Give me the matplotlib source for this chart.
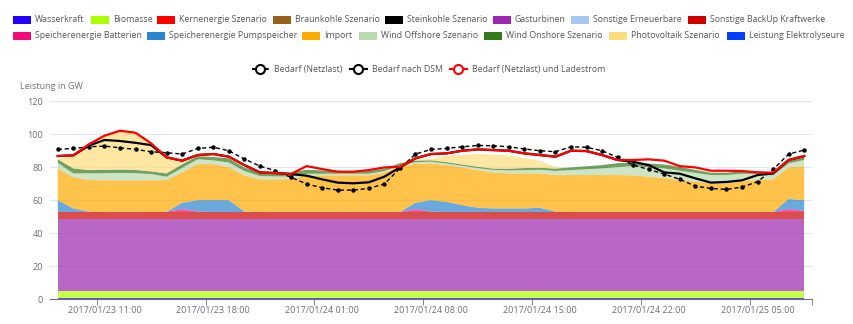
import matplotlib
matplotlib.use("Agg")
import matplotlib.pyplot as plt
from matplotlib.patches import Rectangle
from matplotlib.lines import Line2D
import pandas as pd

plt.rcParams['font.family'] = ['Open Sans', 'DejaVu Sans']

# stündliche Kategorien 23.01. 08:00 bis 25.01. 08:00
zeiten = list(pd.date_range("2017-01-23 08:00", periods=49, freq="h").strftime("%Y/%m/%d %H:%M"))
tick_labels = ["2017/01/23 11:00", "2017/01/23 18:00", "2017/01/24 01:00", "2017/01/24 08:00",
               "2017/01/24 15:00", "2017/01/24 22:00", "2017/01/25 05:00"]

namen = ["Wasserkraft", "Biomasse", "Kernenergie Szenario", "Braunkohle Szenario", "Steinkohle Szenario",
         "Gasturbinen", "Sonstige Erneuerbare", "Sonstige BackUp Kraftwerke",
         "Speicherenergie Batterien", "Speicherenergie Pumpspeicher", "Import", "Wind Offshore Szenario",
         "Wind Onshore Szenario", "Photovoltaik Szenario", "Leistung Elektrolyseure"]
farben = ["#2200ff", "#aaff00", "#ff0000", "#94621a", "#000000", "#9c27b0", "#a4c8f0", "#cc0000",
          "#f50a7a", "#2a85d0", "#ffaa00", "#b9d9b0", "#347a1c", "#fedc7c", "#0040ff"]

wasser = [1.0, 1.0, 1.0, 1.0, 1.0, 1.0, 1.0, 1.0, 1.0, 1.0, 1.0, 1.0, 1.0, 1.0, 1.0, 1.0, 1.0,
          1.0, 1.0, 1.0, 1.0, 1.0, 1.0, 1.0, 1.0, 1.0, 1.0, 1.0, 1.0, 1.0, 1.0, 1.0, 1.0, 1.0,
          1.0, 1.0, 1.0, 1.0, 1.0, 1.0, 1.0, 1.0, 1.0, 1.0, 1.0, 1.0, 1.0, 1.0, 1.0]
biomasse = [4.3, 4.3, 4.3, 4.3, 4.3, 4.3, 4.3, 4.3, 4.3, 4.3, 4.3, 4.3, 4.3, 4.3, 4.3, 4.3, 4.3,
            4.3, 4.3, 4.3, 4.3, 4.3, 4.3, 4.3, 4.3, 4.3, 4.3, 4.3, 4.3, 4.3, 4.3, 4.3, 4.3, 4.3,
            4.3, 4.3, 4.3, 4.3, 4.3, 4.3, 4.3, 4.3, 4.3, 4.3, 4.3, 4.3, 4.3, 4.3, 4.3]
kern = [0] * 49
braunkohle = [0] * 49
steinkohle = [0] * 49
gas = [43.3, 43.3, 43.3, 43.3, 43.3, 43.3, 43.3, 43.3, 43.3, 43.3, 43.3, 43.3, 43.3, 43.3, 43.3, 43.3, 43.3,
       43.3, 43.3, 43.3, 43.3, 43.3, 43.3, 43.3, 43.3, 43.3, 43.3, 43.3, 43.3, 43.3, 43.3, 43.3, 43.3, 43.3,
       43.3, 43.3, 43.3, 43.3, 43.3, 43.3, 43.3, 43.3, 43.3, 43.3, 43.3, 43.3, 43.3, 43.3, 43.3]
sonst_ee = [0] * 49
backup = [4.2, 4.2, 4.2, 4.2, 4.2, 4.2, 4.2, 4.2, 4.2, 4.2, 4.2, 4.2, 4.2, 4.2, 4.2, 4.2, 4.2,
          4.2, 4.2, 4.2, 4.2, 4.2, 4.2, 4.2, 4.2, 4.2, 4.2, 4.2, 4.2, 4.2, 4.2, 4.2, 4.2, 4.2,
          4.2, 4.2, 4.2, 4.2, 4.2, 4.2, 4.2, 4.2, 4.2, 4.2, 4.2, 4.2, 4.2, 4.2, 4.2]
batterien = [0, 0, 0, 0, 0, 0, 0, 0.2, 1.8, 0.3, 0, 0, 0, 0, 0, 0, 0, 0, 0, 0, 0, 0, 0, 1.7, 0.3,
             0, 0, 0, 0, 0, 0, 0, 0, 0, 0, 0, 0, 0, 0, 0, 0, 0, 0, 0, 0, 0, 0, 1.8, 0.8]
pumpspeicher = [7.2, 2.2, 0.2, 0, 0, 0, 0, 0, 3.8, 6.9, 7.2, 7.2, 0.3, 0, 0, 0, 0, 0, 0, 0, 0, 0, 0, 3.9, 6.9,
                6.2, 4.2, 2.6, 2.2, 2.2, 2.2, 2.6, 0.3, 0, 0, 0, 0, 0, 0, 0, 0, 0, 0, 0, 0, 0, 0, 6.1, 6.4]
importe = [19.2, 18.8, 19.2, 19.2, 19.2, 19.2, 19.2, 19.2, 18.4, 21.8, 21.8, 20.0, 21.9, 19.8, 19.8, 20.0, 22.0,
           22.2, 22.2, 22.2, 22.2, 23.8, 27.4, 23.6, 22.3, 22.2, 22.8, 22.8, 21.8, 21.2, 21.2, 20.8, 22.1, 22.4,
           22.4, 22.4, 22.4, 22.2, 21.4, 20.6, 19.4, 18.4, 17.4, 17.4, 18.4, 19.6, 19.8, 19.1, 20.6]
offshore = [3.4, 2.4, 4.0, 4.3, 4.5, 4.3, 3.8, 2.0, 2.7, 2.9, 2.3, 2.8, 2.6, 2.0, 1.8, 1.5, 1.2,
            1.0, 1.0, 1.0, 1.0, 1.0, 1.0, 0.9, 1.0, 1.0, 1.0, 1.2, 1.5, 1.8, 2.0, 2.2, 2.5, 3.0,
            3.5, 4.0, 4.8, 5.6, 5.8, 5.8, 5.6, 5.3, 5.0, 5.0, 4.8, 3.5, 2.4, 2.5, 3.7]
onshore = [2.1, 3.0, 2.0, 2.0, 2.0, 2.0, 1.6, 2.0, 2.2, 2.0, 2.0, 2.5, 2.2, 2.4, 2.4, 2.4, 2.4,
           2.0, 1.8, 1.6, 1.6, 1.4, 1.2, 1.0, 0.8, 0.8, 0.8, 0.8, 0.8, 1.0, 1.2, 1.2, 1.4, 1.6,
           1.8, 2.0, 2.4, 2.0, 2.2, 2.4, 2.4, 1.8, 1.4, 1.4, 1.4, 1.6, 1.6, 1.5, 2.0]
pv = [0, 7.9, 15.6, 20.7, 23.5, 22.5, 17.0, 9.7, 2.2, 0.3, 0, 0, 0, 0, 0, 0, 0, 0, 0, 0, 0, 0, 0, 0.5, 1.0,
      3.7, 5.9, 7.7, 8.5, 8.0, 6.1, 4.2, 1.0, 0, 0, 0, 0, 0, 0, 0, 0, 0, 0, 0, 0, 0, 0, 0, 0]
elektrolyse = [0] * 49

bedarf = [90.7, 91.3, 92.3, 92.7, 91.7, 90.7, 89.3, 88.7, 87.9, 91.3, 92.0, 89.9, 84.9, 80.6, 77.8, 73.8, 69.8,
          67.5, 66.1, 66.1, 67.1, 69.8, 79.2, 87.9, 90.7, 91.3, 92.3, 93.1, 92.9, 92.3, 91.0, 89.9, 89.3, 92.3,
          92.0, 89.9, 85.9, 81.2, 78.6, 75.8, 72.6, 68.5, 67.1, 66.5, 67.9, 71.2, 78.6, 87.9, 90.3]
bedarf_dsm = [86.7, 87.1, 93.0, 96.4, 95.8, 94.7, 93.3, 85.9, 83.9, 87.3, 87.9, 86.3, 81.2, 76.8, 76.4, 75.8, 74.8,
              72.6, 70.6, 70.2, 70.8, 74.2, 79.8, 85.3, 87.9, 88.3, 89.9, 90.7, 90.3, 89.9, 88.3, 87.3, 86.3, 89.9,
              89.7, 87.3, 84.3, 83.2, 81.2, 76.8, 76.0, 73.2, 70.6, 71.0, 72.0, 75.2, 76.2, 84.3, 86.7]
bedarf_lade = [86.7, 87.1, 93.8, 99.0, 102.0, 100.8, 94.4, 85.9, 83.9, 87.3, 87.9, 86.3, 81.2, 76.8, 76.4, 75.8, 80.6,
               78.8, 77.2, 77.2, 78.2, 79.8, 80.2, 85.3, 87.9, 88.3, 89.9, 90.7, 90.3, 89.9, 88.3, 87.3, 86.3, 89.9,
               89.7, 87.3, 84.3, 84.3, 84.7, 83.9, 80.6, 79.8, 77.8, 77.8, 77.6, 76.8, 76.6, 84.3, 86.7]

serien = [wasser, biomasse, kern, braunkohle, steinkohle, gas, sonst_ee, backup, batterien,
          pumpspeicher, importe, offshore, onshore, pv, elektrolyse]

W, H = 854, 324
fig = plt.figure(figsize=(W / 100, H / 100), dpi=100)
ax = fig.add_axes([50 / W, 1 - 299.3 / H, 762 / W, 198.3 / H])

x = list(range(len(zeiten)))
ax.stackplot(x, *serien, colors=farben, alpha=0.7, linewidth=0)
ax.plot(x, bedarf, color="black", lw=1, ls=(0, (3, 2)), marker="o", ms=2.2, zorder=5)
ax.plot(x, bedarf_dsm, color="black", lw=1.6, zorder=6)
ax.plot(x, bedarf_lade, color="#ff0000", lw=1.6, zorder=7)

ax.set_xlim(-0.5, len(zeiten) - 0.5)
ax.set_ylim(0, 120)
ax.set_yticks([0, 20, 40, 60, 80, 100, 120])
ax.yaxis.grid(True, color="#e0e6f1", lw=0.8)
ax.set_axisbelow(True)
for s in ["left", "right", "top"]:
    ax.spines[s].set_visible(False)
ax.spines["bottom"].set_color("#6e7079")
ax.tick_params(axis="y", length=0, pad=5, labelsize=6.6, labelcolor="#6e7079")

pos = [zeiten.index(t) for t in tick_labels]
ax.set_xticks(pos, tick_labels)
ax.set_xticks([p - 0.5 for p in pos] + [len(zeiten) - 0.5], minor=True)
ax.tick_params(axis="x", which="major", length=0, pad=5, labelsize=6.5, labelcolor="#6e7079")
ax.tick_params(axis="x", which="minor", length=4, color="#6e7079")

fig.text(20 / W, 1 - 86 / H, "Leistung in GW", fontsize=6.5, color="#6e7079", va="center")

# Legende Flächen
reihe1 = [13, 91, 157, 273, 385, 493, 571, 688]
reihe2 = [13, 147, 302, 359, 484, 609, 727]
legende = [(px, 20, i) for i, px in enumerate(reihe1)] + [(px, 36, i + 8) for i, px in enumerate(reihe2)]
for px, py, i in legende:
    fig.add_artist(Rectangle((px / W, 1 - (py + 4) / H), 18 / W, 8 / H,
                             transform=fig.transFigure, color=farben[i], lw=0))
    fig.text((px + 22) / W, 1 - py / H, namen[i], fontsize=6.3, color="#555555", va="center")

# Legende Linien
linien = [("Bedarf (Netzlast)", "black", (0, (3, 2)), 252),
          ("Bedarf nach DSM", "black", "-", 350),
          ("Bedarf (Netzlast) und Ladestrom", "#ff0000", "-", 450)]
for text, col, stil, px in linien:
    fy = 1 - 69 / H
    fig.add_artist(Line2D([px / W, (px + 17) / W], [fy, fy], transform=fig.transFigure,
                          color=col, lw=1.5, ls=stil))
    fig.add_artist(Line2D([(px + 8.5) / W], [fy], transform=fig.transFigure, marker="o", ms=6.5,
                          mfc="white", mec=col, mew=1.5, ls="none"))
    fig.text((px + 22) / W, fy, text, fontsize=6.3, color="#555555", va="center")

fig.savefig("out.png", dpi=100)
